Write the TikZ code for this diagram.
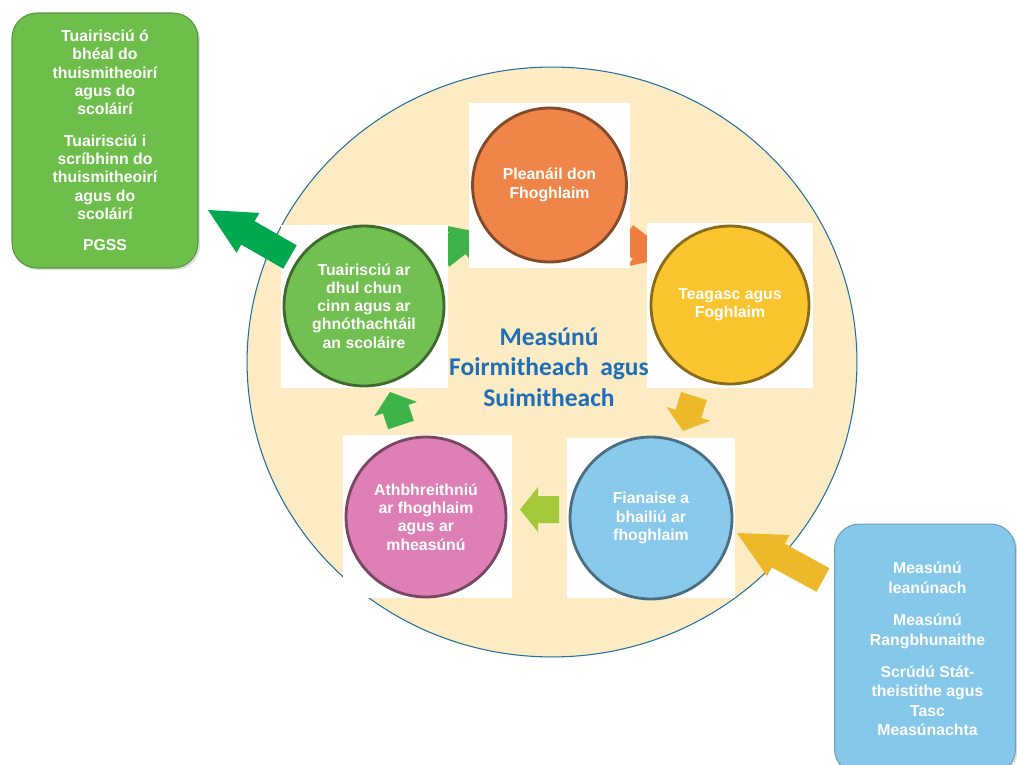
\documentclass[tikz,border=0pt]{standalone}
\usepackage{fontspec}
\setmainfont{Liberation Sans}
\newfontfamily\titlefont{Carlito}
\usetikzlibrary{calc,shapes.geometric,shadows}
\definecolor{ringfill}{HTML}{FDEBC4}
\definecolor{ringline}{HTML}{23709E}
\definecolor{planC}{HTML}{EF8548}
\definecolor{teachC}{HTML}{FAC52F}
\definecolor{evidC}{HTML}{88C9EC}
\definecolor{reviewC}{HTML}{DE80B5}
\definecolor{reportC}{HTML}{72C052}
\definecolor{greenbox}{HTML}{6DBE4B}
\definecolor{bluebox}{HTML}{86C8EA}
\definecolor{bigG}{HTML}{00A84F}
\definecolor{smallG}{HTML}{3DB34A}
\definecolor{limeA}{HTML}{A3C93A}
\definecolor{orangeA}{HTML}{EE7D3E}
\definecolor{yellowA}{HTML}{EDB92A}
\definecolor{titleC}{HTML}{1E6FB8}
\tikzset{
  sq/.style={rectangle,fill=white,inner sep=0pt},
  ball/.style={circle,fill=#1,draw=#1!55!black,line width=1.6pt,inner sep=0pt,
    text=white,font=\bfseries\fontsize{9}{10.4}\selectfont,align=center},
  infobox/.style={rectangle,rounded corners=0.5cm,fill=#1,draw=#1!80!black,line width=0.6pt,
    drop shadow={opacity=0.25,shadow xshift=1.2pt,shadow yshift=-1.2pt},
    text=white,font=\bfseries\fontsize{9}{10.4}\selectfont,align=center,inner sep=0pt}
}
% block arrow: colour, tail, tip, shaft width, head width, head length
\newcommand{\blockarrow}[6]{%
  \fill[#1] let \p1=(#2), \p2=(#3), \n1={atan2(\y2-\y1,\x2-\x1)},
    \n2={veclen(\x2-\x1,\y2-\y1)-#6} in
    ($(\p1)+(\n1+90:#4/2)$) -- ($(\p1)+(\n1:\n2)+(\n1+90:#4/2)$)
    -- ($(\p1)+(\n1:\n2)+(\n1+90:#5/2)$) -- (\p2)
    -- ($(\p1)+(\n1:\n2)+(\n1-90:#5/2)$) -- ($(\p1)+(\n1:\n2)+(\n1-90:#4/2)$)
    -- ($(\p1)+(\n1-90:#4/2)$) -- cycle;}
\begin{document}
\begin{tikzpicture}[x=0.02cm,y=-0.02cm]
        \useasboundingbox (0,0) rectangle (1017,764);
        \node[ellipse,fill=ringfill,draw=ringline,line width=0.6pt,minimum width=12.2cm,minimum height=11.8cm] (ring) at (552,362) {};
        \coordinate (rpT) at (441,256);\coordinate (rpH) at (473,231);
        \coordinate (plT) at (625,236);\coordinate (plH) at (657,260);
        \blockarrow{smallG}{rpT}{rpH}{0.54cm}{0.92cm}{0.4cm}
        \blockarrow{orangeA}{plT}{plH}{0.54cm}{0.92cm}{0.4cm}
        \node[sq,minimum width=3.22cm,minimum height=3.30cm] (sqplan) at (549.5,185.5) {};
        \node[sq,minimum width=3.32cm,minimum height=3.30cm] (sqteach) at (730,305.5) {};
        \node[sq,minimum width=3.36cm,minimum height=3.20cm] (sqevid) at (651,518) {};
        \node[sq,minimum width=3.38cm,minimum height=3.26cm] (sqreview) at (427.5,516.5) {};
        \node[sq,minimum width=3.34cm,minimum height=3.26cm] (sqreport) at (364.5,306.5) {};
        \node[ball=planC,minimum size=3.08cm] (plan) at (549.5,185) {Pleanáil don\\Fhoghlaim};
        \node[ball=teachC,minimum size=3.16cm] (teach) at (730,305) {Teagasc agus\\Foghlaim};
        \node[ball=evidC,minimum size=3.24cm] (evid) at (651,518) {Fianaise a\\bhailiú ar\\fhoghlaim};
        \node[ball=reviewC,minimum size=3.2cm] (review) at (426,517) {Athbhreithniú\\ar fhoghlaim\\agus ar\\mheasúnú};
        \node[ball=reportC,minimum size=3.2cm] (report) at (364,306) {Tuairisciú ar\\dhul chun\\cinn agus ar\\ghnóthachtáil\\an scoláire};
        \node[infobox=greenbox,minimum width=3.72cm,minimum height=5.1cm] (oral) at (105,140.5)
          {Tuairisciú ó\\bhéal do\\thuismitheoirí\\agus do\\scoláirí\\[7.5pt]Tuairisciú i\\scríbhinn do\\thuismitheoirí\\agus do\\scoláirí\\[7.5pt]PGSS};
        \node[infobox=bluebox,minimum width=3.62cm,minimum height=5.0cm,font=\bfseries\fontsize{9}{11}\selectfont] (exams) at (925,649)
          {\hspace*{0.1cm}Measúnú\\\hspace*{0.1cm}leanúnach\\[7.5pt]\hspace*{0.1cm}Measúnú\\\hspace*{0.1cm}Rangbhunaithe\\[7.5pt]\hspace*{0.1cm}Scrúdú Stát-\\\hspace*{0.1cm}theistithe agus\\\hspace*{0.1cm}Tasc\\\hspace*{0.1cm}Measúnachta};
        \coordinate (bgT) at (290,257);\coordinate (bgH) at (208,210);
        \coordinate (tcT) at (694,396);\coordinate (tcH) at (683,431);
        \coordinate (evT) at (559,509.5);\coordinate (evH) at (520,509.5);
        \coordinate (rvT) at (401,425);\coordinate (rvH) at (390,392);
        \coordinate (byT) at (823,580);\coordinate (byH) at (737,533);
        \blockarrow{bigG}{bgT}{bgH}{0.54cm}{0.92cm}{0.92cm}
        \blockarrow{yellowA}{tcT}{tcH}{0.54cm}{0.92cm}{0.36cm}
        \blockarrow{limeA}{evT}{evH}{0.54cm}{0.9cm}{0.36cm}
        \blockarrow{smallG}{rvT}{rvH}{0.54cm}{0.9cm}{0.36cm}
        \blockarrow{yellowA}{byT}{byH}{0.54cm}{0.94cm}{0.94cm}
        \node[text=titleC,font=\titlefont\bfseries\fontsize{14.5}{17.4}\selectfont,align=center] (title) at (549,367)
          {Measúnú\\Foirmitheach\ \ agus\\Suimitheach};
\end{tikzpicture}
\end{document}
